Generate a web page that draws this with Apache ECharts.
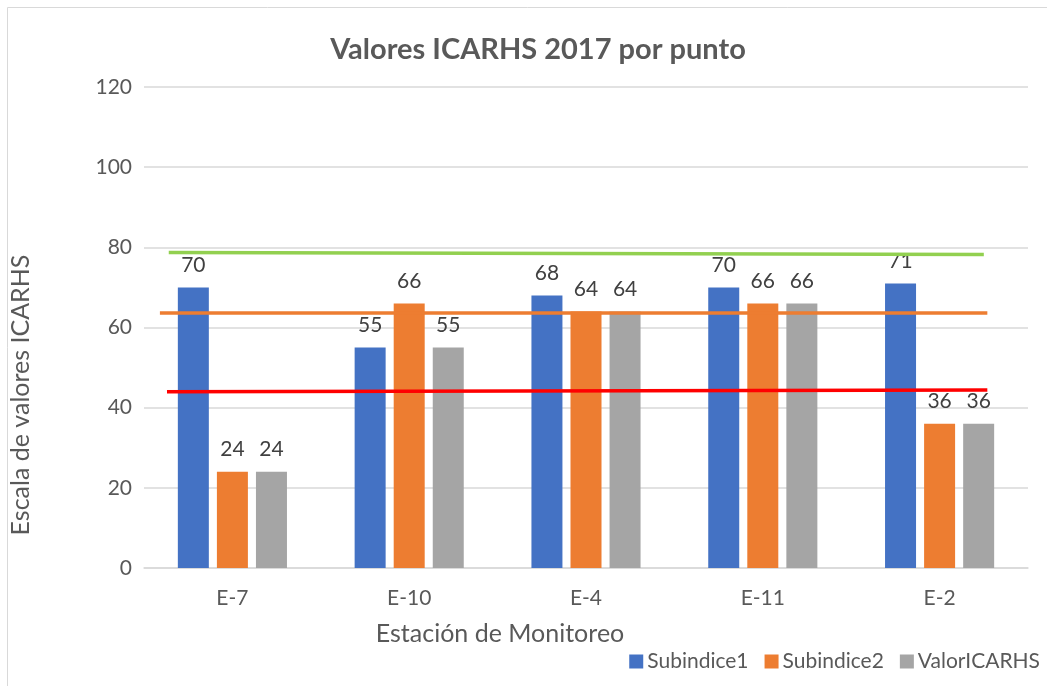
<!DOCTYPE html>
<html>
<head>
<meta charset="utf-8">
<script src="https://cdn.jsdelivr.net/npm/echarts@6/dist/echarts.min.js"></script>
<style>
  html, body { margin: 0; padding: 0; background: #fff; }
  #chart { width: 1047px; height: 686px; }
</style>
</head>
<body>
<div id="chart"></div>
<script>
// estaciones y valores
const estaciones = ['E-7', 'E-10', 'E-4', 'E-11', 'E-2']
const subindice1 = [70, 55, 68, 70, 71]
const subindice2 = [24, 66, 64, 66, 36]
const valorIcarhs = [24, 55, 64, 66, 36]
const yTicks = [0, 20, 40, 60, 80, 100, 120]

// lineas de referencia dibujadas a mano: [x inicio, y inicio, x fin, y fin] en unidades de categoria
const lineaVerde = [[-0.36, 78.7], [4.25, 78.2]]
const lineaNaranja = [[-0.41, 63.6], [4.27, 63.6]]
const lineaRoja = [[-0.37, 44.0], [4.27, 44.4]]

const fuente = 'Lato, "Open Sans", sans-serif'
const gris = '#595959'

const chart = echarts.init(document.getElementById('chart'))

function serieBarra(name, data, color) {
  return {
    name: name,
    type: 'bar',
    data: data,
    barWidth: 31,
    barGap: '26%',
    itemStyle: { color: color },
    label: {
      show: true,
      position: 'top',
      distance: 12,
      color: '#404040',
      fontFamily: fuente,
      fontSize: 21
    }
  }
}

function serieLinea(data, color) {
  return {
    type: 'line',
    xAxisIndex: 1,
    data: data,
    symbol: 'none',
    silent: true,
    z: 5,
    lineStyle: { color: color, width: 3.5 }
  }
}

const option = {
  animation: false,
  textStyle: { fontFamily: fuente },
  title: [
    {
      text: 'Valores ICARHS 2017 por punto',
      left: 533,
      top: 30,
      textAlign: 'center',
      textStyle: { fontFamily: fuente, fontSize: 29, fontWeight: 'bold', color: gris }
    },
    {
      text: 'Estación de Monitoreo',
      left: 495,
      top: 616,
      textAlign: 'center',
      textStyle: { fontFamily: fuente, fontSize: 25, fontWeight: 'normal', color: gris }
    }
  ],
  graphic: [
    {
      type: 'rect',
      shape: { x: 7.5, y: 7.5, width: 1100, height: 700 },
      style: { fill: 'none', stroke: '#d9d9d9', lineWidth: 1 },
      silent: true
    },
    {
      type: 'text',
      x: 21,
      y: 395,
      rotation: Math.PI / 2,
      style: {
        text: 'Escala de valores ICARHS',
        font: '25px ' + fuente,
        fill: gris,
        align: 'center',
        verticalAlign: 'middle'
      }
    }
  ],
  legend: {
    right: 2,
    bottom: 9,
    itemWidth: 14,
    itemHeight: 14,
    itemGap: 16,
    icon: 'rect',
    data: ['Subindice1', 'Subindice2', 'ValorICARHS'],
    textStyle: { fontFamily: fuente, fontSize: 21, color: gris, padding: [0, 0, 0, -1] }
  },
  grid: { left: 144, right: 19, top: 87, bottom: 118 },
  xAxis: [
    {
      type: 'category',
      data: estaciones,
      axisTick: { show: false },
      axisLine: { lineStyle: { color: '#d9d9d9', width: 1.5 } },
      axisLabel: { color: gris, fontFamily: fuente, fontSize: 21, margin: 20 }
    },
    {
      type: 'value',
      min: -0.5,
      max: estaciones.length - 0.5,
      show: false
    }
  ],
  yAxis: {
    type: 'value',
    min: yTicks[0],
    max: yTicks[yTicks.length - 1],
    interval: yTicks[1] - yTicks[0],
    axisLine: { show: false },
    axisTick: { show: false },
    splitLine: { lineStyle: { color: '#d9d9d9', width: 1.5 } },
    axisLabel: { color: gris, fontFamily: fuente, fontSize: 21, margin: 12 }
  },
  series: [
    serieBarra('Subindice1', subindice1, '#4472C4'),
    serieBarra('Subindice2', subindice2, '#ED7D31'),
    serieBarra('ValorICARHS', valorIcarhs, '#A5A5A5'),
    serieLinea(lineaVerde, '#92D050'),
    serieLinea(lineaNaranja, '#ED7D31'),
    serieLinea(lineaRoja, '#FF0000')
  ]
}

chart.setOption(option)
</script>
</body>
</html>
